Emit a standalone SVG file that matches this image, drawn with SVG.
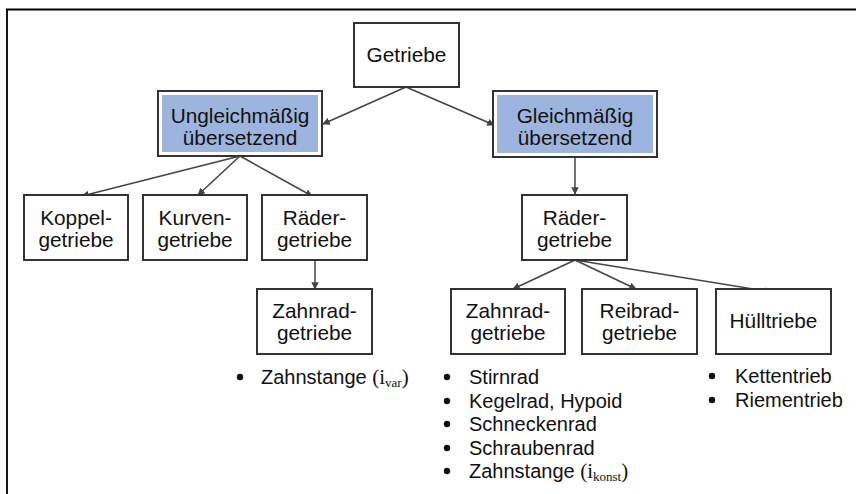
<svg xmlns="http://www.w3.org/2000/svg" width="856" height="494" viewBox="0 0 856 494">
<defs>
<style>
.box{fill:#fff;stroke:#333;stroke-width:2}
.blue{fill:#9db5de}
.t{font-family:"Liberation Sans",Arial,sans-serif;font-size:20.8px;fill:#111;text-anchor:middle}
.l{font-family:"Liberation Sans",Arial,sans-serif;font-size:20px;fill:#111}
.s{font-family:"Liberation Serif","Times New Roman",serif}
.c{stroke:#444;stroke-width:1.5;fill:none;marker-end:url(#ah)}
.frame{stroke:#000;stroke-width:1.8;fill:none}
</style>
<marker id="ah" viewBox="0 0 10 10" refX="9" refY="5" markerWidth="5" markerHeight="5" orient="auto" markerUnits="strokeWidth">
<path d="M0,0 L10,5 L0,10 z" fill="#444"/>
</marker>
</defs>
<rect width="856" height="494" fill="#fff"/>
<path class="frame" d="M6,9.5 H856 M7,9 V494"/>
<g id="connectors">
<line class="c" x1="406" y1="87" x2="323" y2="124"/>
<line class="c" x1="406" y1="87" x2="494" y2="125"/>
<line class="c" x1="240" y1="156" x2="82" y2="196"/>
<line class="c" x1="240" y1="156" x2="198" y2="195"/>
<line class="c" x1="240" y1="156" x2="312" y2="196"/>
<line class="c" x1="315" y1="260" x2="315" y2="289"/>
<line class="c" x1="575" y1="157" x2="575" y2="194"/>
<line class="c" x1="575" y1="260" x2="513" y2="289"/>
<line class="c" x1="575" y1="260" x2="636" y2="289"/>
<line class="c" x1="575" y1="260" x2="771" y2="292"/>
</g>
<g id="getriebe">
<rect class="box" x="354" y="23" width="105" height="64"/>
<text class="t" x="406.5" y="62">Getriebe</text>
</g>
<g id="ungleich">
<rect class="box" x="158" y="91" width="164" height="65"/>
<rect class="blue" x="162" y="95" width="156" height="57"/>
<text class="t" x="240" y="123">Ungleichmäßig</text>
<text class="t" x="240" y="145">übersetzend</text>
</g>
<g id="gleich">
<rect class="box" x="493" y="91" width="164" height="66"/>
<rect class="blue" x="497" y="95" width="156" height="58"/>
<text class="t" x="575" y="123">Gleichmäßig</text>
<text class="t" x="575" y="145">übersetzend</text>
</g>
<g id="koppel">
<rect class="box" x="24" y="195" width="104" height="65"/>
<text class="t" x="76" y="225">Koppel-</text>
<text class="t" x="76" y="247">getriebe</text>
</g>
<g id="kurven">
<rect class="box" x="143" y="195" width="104" height="65"/>
<text class="t" x="195" y="225">Kurven-</text>
<text class="t" x="195" y="247">getriebe</text>
</g>
<g id="raeder-left">
<rect class="box" x="262" y="195" width="105" height="65"/>
<text class="t" x="314.5" y="225">Räder-</text>
<text class="t" x="314.5" y="247">getriebe</text>
</g>
<g id="zahnrad-left">
<rect class="box" x="257" y="289" width="115" height="65"/>
<text class="t" x="314.5" y="318">Zahnrad-</text>
<text class="t" x="314.5" y="340">getriebe</text>
</g>
<g id="raeder-right">
<rect class="box" x="522" y="195" width="105" height="65"/>
<text class="t" x="574.5" y="225">Räder-</text>
<text class="t" x="574.5" y="247">getriebe</text>
</g>
<g id="zahnrad-right">
<rect class="box" x="451" y="289" width="114" height="65"/>
<text class="t" x="508" y="318">Zahnrad-</text>
<text class="t" x="508" y="340">getriebe</text>
</g>
<g id="reibrad">
<rect class="box" x="582" y="289" width="115" height="65"/>
<text class="t" x="639.5" y="318">Reibrad-</text>
<text class="t" x="639.5" y="340">getriebe</text>
</g>
<g id="huelltriebe">
<rect class="box" x="716" y="289" width="115" height="65"/>
<text class="t" x="773.5" y="328">Hülltriebe</text>
</g>
<g id="list-left">
<circle cx="240" cy="377" r="3.2" fill="#111"/>
<text class="l" x="261" y="384">Zahnstange <tspan class="s" font-size="21">(i</tspan><tspan class="s" font-size="13" dy="3">var</tspan><tspan class="s" font-size="21" dy="-3">)</tspan></text>
</g>
<g id="list-zahnrad">
<circle cx="447" cy="377" r="3.2" fill="#111"/>
<text class="l" x="469" y="384">Stirnrad</text>
<circle cx="447" cy="401" r="3.2" fill="#111"/>
<text class="l" x="469" y="408">Kegelrad, Hypoid</text>
<circle cx="447" cy="424" r="3.2" fill="#111"/>
<text class="l" x="469" y="431">Schneckenrad</text>
<circle cx="447" cy="448" r="3.2" fill="#111"/>
<text class="l" x="469" y="455">Schraubenrad</text>
<circle cx="447" cy="471" r="3.2" fill="#111"/>
<text class="l" x="469" y="478">Zahnstange <tspan class="s" font-size="21">(i</tspan><tspan class="s" font-size="13" dy="3">konst</tspan><tspan class="s" font-size="21" dy="-3">)</tspan></text>
</g>
<g id="list-huell">
<circle cx="712" cy="376" r="3.2" fill="#111"/>
<text class="l" x="735" y="383">Kettentrieb</text>
<circle cx="712" cy="400" r="3.2" fill="#111"/>
<text class="l" x="735" y="407">Riementrieb</text>
</g>
</svg>
